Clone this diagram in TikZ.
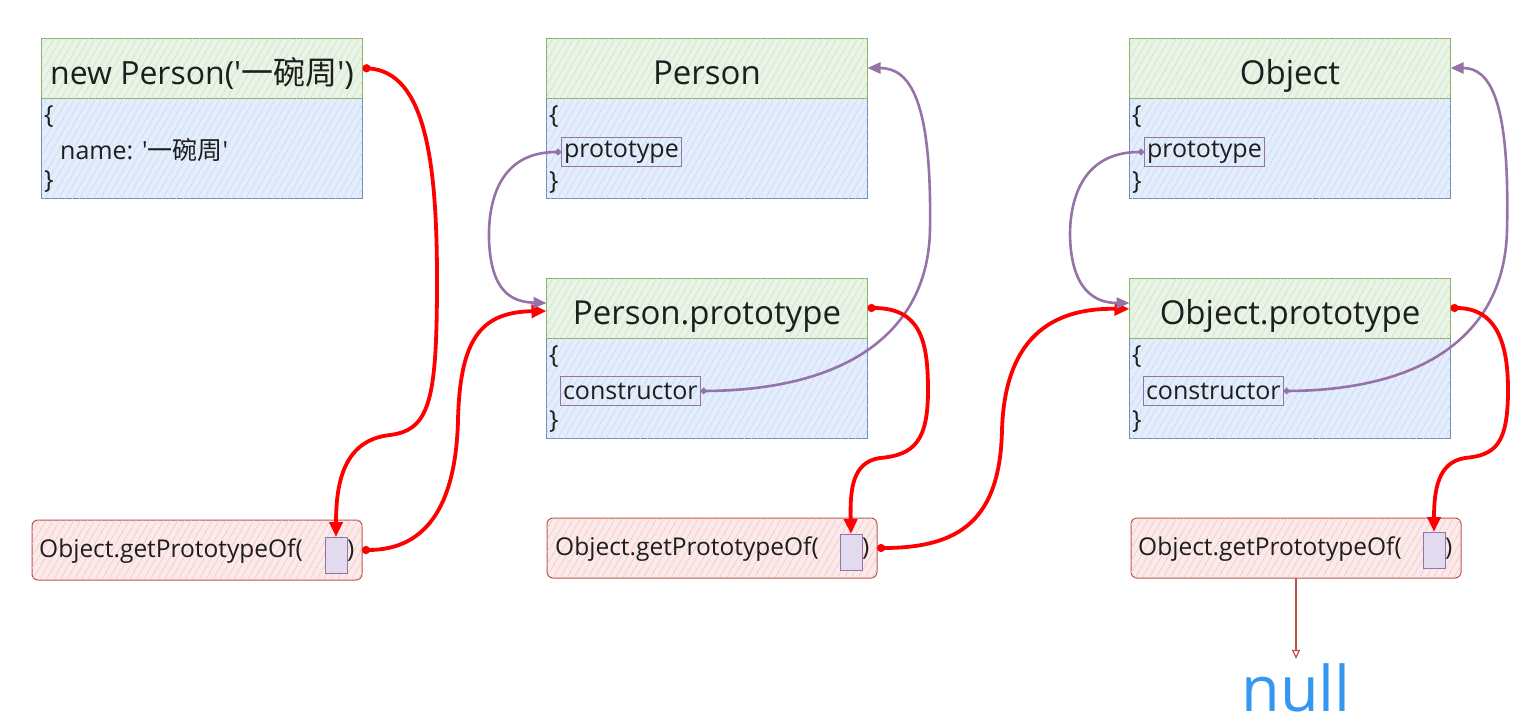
\documentclass[tikz,border=0pt]{standalone}
\usepackage{fontspec}
\setmainfont{Open Sans}
\newfontfamily\cjk{Noto Sans CJK SC}
\usetikzlibrary{arrows.meta,patterns.meta}
\definecolor{hdrfill}{HTML}{E9F4E6}
\definecolor{hdrhatch}{HTML}{C8E0C0}
\definecolor{hdrline}{HTML}{82B366}
\definecolor{bodyfill}{HTML}{E4EDFB}
\definecolor{bodyhatch}{HTML}{C5D7F2}
\definecolor{bodyline}{HTML}{6C8EBF}
\definecolor{gfill}{HTML}{FBEAE9}
\definecolor{ghatch}{HTML}{F0C4C2}
\definecolor{gline}{HTML}{B85450}
\definecolor{purp}{HTML}{9673A6}
\definecolor{slotfill}{HTML}{E2DAEE}
\definecolor{nullblue}{HTML}{3498F0}
\definecolor{txt}{HTML}{1E1E1E}
\newcommand{\sq}{\textquotesingle}
\begin{document}
\begin{tikzpicture}[x=1pt,y=-1pt,
  hdr/.style={draw=hdrline, line width=1pt, fill=hdrfill,
    postaction={pattern={Lines[angle=60,distance=6pt,line width=0.5pt]}, pattern color=hdrhatch},
    minimum width=321pt, minimum height=60pt, inner sep=0pt, outer sep=0pt,
    text height=38pt, text depth=6pt,
    font=\fontsize{33}{38}\selectfont, text=txt},
  bodybox/.style={draw=bodyline, line width=1pt, fill=bodyfill,
    postaction={pattern={Lines[angle=60,distance=6pt,line width=0.5pt]}, pattern color=bodyhatch},
    minimum width=321pt, minimum height=100pt, inner sep=0pt, outer sep=0pt},
  gbox/.style={draw=gline, line width=1pt, fill=gfill, rounded corners=6pt,
    postaction={pattern={Lines[angle=60,distance=6pt,line width=0.5pt]}, pattern color=ghatch},
    minimum width=330pt, minimum height=60pt, inner sep=0pt, outer sep=0pt},
  btxt/.style={font=\fontsize{25}{30}\selectfont, text=txt, inner sep=0pt, anchor=west},
  gtxt/.style={font=\fontsize{24.5}{29}\selectfont, text=txt, inner sep=0pt, anchor=west},
  lbl/.style={draw=purp, line width=1pt, font=\fontsize{25}{30}\selectfont, text=txt,
    inner xsep=3pt, inner ysep=0pt, minimum height=29pt, anchor=west, outer sep=0pt},
  slot/.style={draw=purp, line width=1pt, fill=slotfill, minimum width=22pt, minimum height=36pt, inner sep=0pt, outer sep=0pt},
  redarr/.style={draw=red, line width=3.8pt, {Circle[length=8pt]}-{Triangle[length=15pt,width=13pt]}},
  purarr/.style={draw=purp, line width=2.6pt, {Circle[length=6pt]}-{Triangle[length=13pt,width=11pt]}},
  thinarr/.style={draw=gline, line width=1.2pt, -{Triangle[open,length=9pt,width=8pt]}}
]
\useasboundingbox (0,0) rectangle (1519,720);

% ---- column 1
\node[bodybox] (b1) at (202,148) {};
\node[hdr, font=\fontsize{32}{38}\selectfont] (h1) at (202,68) {new Person(\sq{\cjk 一碗周}\sq)};
\node[btxt] (b1o) at (44,117) {\{};
\node[btxt] (b1n) at (60,150) {name: \sq{\cjk 一碗周}\sq};
\node[btxt] (b1c) at (44,182) {\}};

\node[gbox] (gA) at (197,550) {};
\node[gtxt] (gAt) at (39,551) {Object.getPrototypeOf(};
\node[slot] (s1) at (336,555) {};
\node[gtxt] (gAp) at (347,551) {)};

% ---- column 2
\node[bodybox] (pb) at (707,148) {};
\node[hdr] (p) at (707,68) {Person};
\node[btxt] (pbo) at (549,117) {\{};
\node[lbl] (lp1) at (561,152) {prototype};
\node[btxt] (pbc) at (549,183) {\}};

\node[bodybox] (ppb) at (707,388) {};
\node[hdr] (pp) at (707,308) {Person.prototype};
\node[btxt] (ppbo) at (549,357) {\{};
\node[lbl] (lc1) at (560,391) {constructor};
\node[btxt] (ppbc) at (549,422) {\}};

\node[gbox] (gB) at (712,548) {};
\node[gtxt] (gBt) at (555,549) {Object.getPrototypeOf(};
\node[slot] (s2) at (851,552) {};
\node[gtxt] (gBp) at (862,549) {)};

% ---- column 3
\node[bodybox] (ob) at (1290,148) {};
\node[hdr] (o) at (1290,68) {Object};
\node[btxt] (obo) at (1132,117) {\{};
\node[lbl] (lp2) at (1144,152) {prototype};
\node[btxt] (obc) at (1132,183) {\}};

\node[bodybox] (opb) at (1290,388) {};
\node[hdr] (op) at (1290,308) {Object.prototype};
\node[btxt] (opbo) at (1132,357) {\{};
\node[lbl] (lc2) at (1143,391) {constructor};
\node[btxt] (opbc) at (1132,422) {\}};

\node[gbox] (gC) at (1296,548) {};
\node[gtxt] (gCt) at (1138,549) {Object.getPrototypeOf(};
\node[slot] (s3) at (1434,550) {};
\node[gtxt] (gCp) at (1445,549) {)};

\node[font=\fontsize{63}{70}\selectfont, text=nullblue, inner sep=0pt, text depth=0pt, anchor=base] (nl) at (1296,711) {null};

% ---- connectors
\draw[redarr] (h1.east) .. controls (425,72) and (437,160) .. (437,280)
  .. controls (437,400) and (430,430) .. (390,435)
  .. controls (345,440) and (336,480) .. (s1.north);
\draw[redarr] (gA.east) .. controls (430,550) and (456,500) .. (458,420)
  .. controls (460,340) and (480,312) .. ([yshift=-3pt]pp.west);
\draw[purarr] (lp1.west) .. controls (500,152) and (488,200) .. (489,240)
  .. controls (491,290) and (510,302) .. ([yshift=5pt]pp.west);
\draw[purarr] (lc1.east) .. controls (850,390) and (928,330) .. (930,230)
  .. controls (932,100) and (910,68) .. (p.east);
\draw[redarr] (pp.east) .. controls (920,308) and (928,340) .. (928,390)
  .. controls (928,440) and (915,455) .. (880,458)
  .. controls (852,462) and (850,490) .. (s2.north);
\draw[redarr] (gB.east) .. controls (960,548) and (1000,520) .. (1002,430)
  .. controls (1005,330) and (1060,308) .. ([yshift=-1pt]op.west);
\draw[purarr] (lp2.west) .. controls (1082,152) and (1070,200) .. (1070,235)
  .. controls (1071,290) and (1095,303) .. ([yshift=5pt]op.west);
\draw[purarr] (lc2.east) .. controls (1430,390) and (1505,330) .. (1507,230)
  .. controls (1510,100) and (1490,68) .. (o.east);
\draw[redarr] (op.east) .. controls (1500,308) and (1508,350) .. (1508,390)
  .. controls (1508,445) and (1495,455) .. (1465,458)
  .. controls (1438,462) and (1434,490) .. (s3.north);
\draw[thinarr] (gC.south) -- ([yshift=4pt]nl.north);
\end{tikzpicture}
\end{document}
